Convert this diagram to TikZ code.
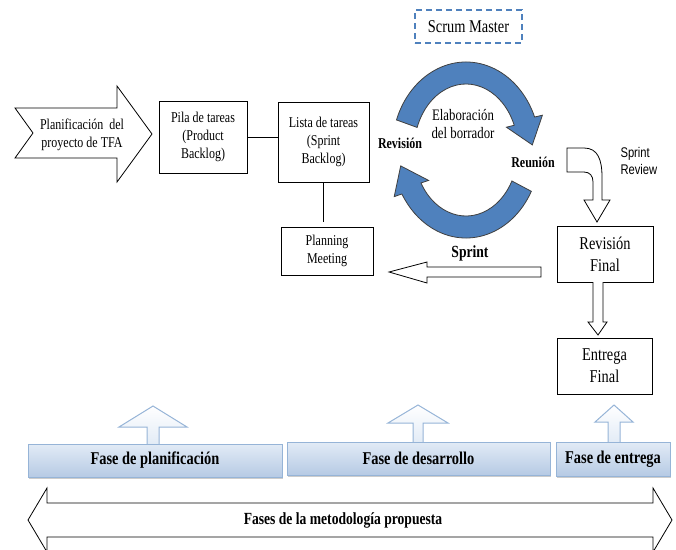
\documentclass[tikz,border=0pt]{standalone}
\usepackage{fontspec}
\setmainfont{Liberation Serif}[FakeStretch=0.8]
\setsansfont{Liberation Sans}[FakeStretch=0.8]
\usetikzlibrary{shadows}

\definecolor{arcblue}{RGB}{79,129,189}
\definecolor{bartop}{RGB}{226,235,246}
\definecolor{barbot}{RGB}{182,202,228}
\definecolor{phaseline}{RGB}{150,180,215}

\tikzset{
  box/.style={rectangle, draw, line width=1pt, align=center, font=\fontsize{15}{18}\selectfont},
  bigbox/.style={box, font=\fontsize{18}{22}\selectfont},
  hollow/.style={draw, fill=white, line width=0.8pt, line join=miter},
  cycarrow/.style={draw=black!75, line width=0.8pt, fill=arcblue},
  phasebar/.style={rectangle, draw=phaseline, top color=bartop, bottom color=barbot, inner sep=0pt,
    font=\bfseries\fontsize{18}{22}\selectfont,
    drop shadow={shadow xshift=1pt, shadow yshift=-2pt, fill=black, opacity=0.2}},
  phasearrow/.style={draw=phaseline, line width=1pt, top color=white, bottom color=bartop},
  lbl/.style={font=\bfseries\fontsize{15}{18}\selectfont}
}

\begin{document}
\begin{tikzpicture}[x=1pt, y=-1pt]
    \useasboundingbox (0,0) rectangle (676,549);

    \draw [hollow] (15,108) -- (117,108) -- (117,86) -- (152,134) -- (117,182) -- (117,158) -- (15,158) -- (33,133) -- cycle;
    \node [align=center, font=\fontsize{15}{18}\selectfont] (planif) at (82,135) {Planificación\ \ del\\proyecto de TFA};

    \node [box, minimum width=88pt, minimum height=72pt] (pila) at (203,137) {Pila de tareas\\(Product\\Backlog)};
    \node [box, minimum width=91pt, minimum height=80pt] (lista) at (323.5,142) {Lista de tareas\\(Sprint\\Backlog)};
    \node [box, minimum width=92pt, minimum height=48pt] (meet) at (327,251) {Planning\\Meeting};

    \draw [line width=1pt] (pila.east) -- (pila.east -| lista.west);
    \draw [line width=1pt, shorten >=5pt] (lista.south) -- (lista.south |- meet.north);

    \node [rectangle, draw=arcblue, line width=2.2pt, dash pattern=on 6pt off 4pt, minimum width=107pt, minimum height=33pt,
        font=\fontsize{18}{22}\selectfont] (scrum) at (468.5,26.5) {Scrum Master};

    \begin{scope}[shift={(466,150)}, yscale=-1]
        \draw [cycarrow] (160:74 and 88) arc [start angle=160, end angle=22, x radius=74, y radius=88]
            -- (76.4,34.8) -- (66.3,5.1) -- (40.4,22.8)
            -- (22:52 and 66) arc [start angle=22, end angle=160, x radius=52, y radius=66] -- cycle;
        \draw [cycarrow] (-28:74 and 88) arc [start angle=-28, end angle=-150, x radius=74, y radius=88]
            -- (-71.8,-46.6) -- (-65.3,-15.9) -- (-37.4,-30.4)
            -- (-150:52 and 66) arc [start angle=-150, end angle=-28, x radius=52, y radius=66] -- cycle;
    \end{scope}

    \node [align=center, font=\fontsize{16}{18}\selectfont] (elab) at (463,124) {Elaboración\\del borrador};
    \node [lbl] (revision) at (400,143) {Revisión};
    \node [lbl] (reunion) at (533,162) {Reunión};

    \draw [hollow] (567,148) -- (584,148) .. controls (598,148) and (602,160) .. (602,177) -- (602,200) -- (610,200)
        -- (597,222) -- (584,200) -- (593,200) -- (593,182) .. controls (593,176) and (590,172) .. (584,172) -- (567,172) -- cycle;
    \node [anchor=west, align=left, font=\sffamily\fontsize{14}{17}\selectfont] (review) at (617,161) {Sprint\\Review};

    \node [bigbox, minimum width=96pt, minimum height=56pt] (revfin) at (605,254) {Revisión\\Final};
    \node [bigbox, minimum width=95pt, minimum height=56pt] (entrega) at (604.5,366) {Entrega\\Final};

    \draw [hollow] (593,282) -- (593,322) -- (588,322) -- (598,335) -- (607,322) -- (603,322) -- (603,282);

    \draw [hollow] (541,267) -- (427,267) -- (427,262) -- (389,272) -- (427,283) -- (427,277) -- (541,277) -- cycle;
    \node [font=\bfseries\fontsize{17}{20}\selectfont] (sprint) at (470,253) {Sprint};

    \draw [phasearrow] (147,445) -- (147,427) -- (119,427) -- (153,406) -- (187,427) -- (159,427) -- (159,445);
    \draw [phasearrow] (413,443) -- (413,423) -- (388,423) -- (418,405) -- (448,423) -- (423,423) -- (423,443);
    \draw [phasearrow] (608,443) -- (608,422) -- (595,422) -- (614,405) -- (633,422) -- (620,422) -- (620,443);

    \node [phasebar, minimum width=254pt, minimum height=33pt] (fplan) at (155,460.5) {Fase de planificación};
    \node [phasebar, minimum width=263pt, minimum height=33pt] (fdes) at (418.5,458.5) {Fase de desarrollo};
    \node [phasebar, minimum width=114pt, minimum height=34pt] (fent) at (613,459) {Fase de entrega};

    \draw [hollow] (28,520) -- (47,488) -- (47,503) -- (653,503) -- (653,488) -- (672,520) -- (653,552) -- (653,537)
        -- (47,537) -- (47,552) -- cycle;
    \node [font=\bfseries\fontsize{17}{20}\selectfont] (fases) at (343,520) {Fases de la metodología propuesta};
\end{tikzpicture}
\end{document}
